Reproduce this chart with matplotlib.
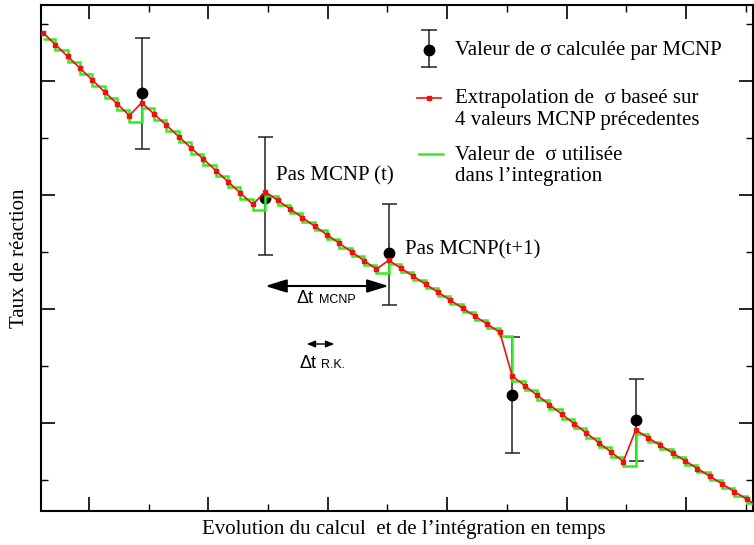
import numpy as np
import matplotlib
matplotlib.use('Agg')
import matplotlib.pyplot as plt
from matplotlib.patches import ArrowStyle

# ── Data (x = Runge-Kutta step index, y = reaction rate, arbitrary units) ────
rk_edges = np.arange(59)

# extrapolated sigma at each RK step (red), reset at each MCNP step
red_vals = [478.4, 466.5, 454.7, 442.8, 431.0, 419.1, 407.3, 395.4,
            408.3, 397.0, 385.7, 374.4, 363.1, 351.8, 340.5, 329.2, 317.9, 306.6,
            319.3, 310.7, 302.1, 293.5, 284.9, 276.3, 267.7, 259.1, 250.5, 241.9,
            250.7, 242.7, 234.7, 226.7, 218.7, 210.7, 202.7, 194.7, 186.7, 178.7,
            135.0, 125.5, 116.0, 106.5, 97.0, 87.5, 78.0, 68.5, 59.0, 49.5,
            81.0, 73.3, 65.6, 57.9, 50.2, 42.5, 34.8, 27.1, 19.4, 11.7, 4.0]

# sigma used during each RK step (green, piecewise constant)
green_vals = [472.5, 460.6, 448.8, 436.9, 425.1, 413.2, 401.4, 389.5,
              402.7, 391.4, 380.1, 368.8, 357.5, 346.2, 334.9, 323.6, 312.3, 301.0,
              315.0, 306.4, 297.8, 289.2, 280.6, 272.0, 263.4, 254.8, 246.2, 237.6,
              246.7, 238.7, 230.7, 222.7, 214.7, 206.7, 198.7, 190.7, 182.7, 174.7,
              130.25, 120.75, 111.25, 101.75, 92.25, 82.75, 73.25, 63.75, 54.25, 44.75,
              77.1, 69.4, 61.7, 54.0, 46.3, 38.6, 30.9, 23.2, 15.5, 7.8]

# MCNP computed values with error bars
mcnp_step = [8, 18, 28, 38, 48]
mcnp_vals = [418, 313, 258, 116, 91]
mcnp_err_lo = [55.5, 57, 52, 58, 41]
mcnp_err_hi = [55, 60.7, 49, 58, 41]

RED = '#f01010'
GREEN = '#2ef01e'
SERIF = 'Liberation Serif'
SANS = 'Liberation Sans'

fig = plt.figure(figsize=(7.54, 5.45), dpi=100)
ax = fig.add_axes([41 / 754, 34 / 545, 712 / 754, 506 / 545])

# ── Marks ─────────────────────────────────────────────────────────────────────
ax.errorbar(mcnp_step, mcnp_vals, yerr=[mcnp_err_lo, mcnp_err_hi], fmt='none',
            ecolor='#222222', elinewidth=1.1, capsize=5.4, capthick=1.1, zorder=1)
ax.plot(mcnp_step, mcnp_vals, 'o', color='black', markersize=7.5, zorder=2)
ax.stairs(green_vals, rk_edges, baseline=None, color=GREEN, lw=1.8, zorder=3)
ax.plot(rk_edges, red_vals, '-s', color=RED, lw=1.2, markersize=3, zorder=4)

ax.set_xlim(-0.154, 57.5)
ax.set_ylim(0, 506)

# ── Ticks / spines ────────────────────────────────────────────────────────────
ax.set_xticks(3.733 + 9.668 * np.arange(6))
ax.set_xticks(8.567 + 9.668 * np.arange(6), minor=True)
ax.set_yticks([88, 202, 316, 430])
ax.set_yticks([31, 145, 259, 373, 487], minor=True)
ax.tick_params(which='both', direction='in', top=True, right=True,
               labelbottom=False, labelleft=False, color='black')
ax.tick_params(which='major', length=10, width=1.2)
ax.tick_params(which='minor', length=5, width=1.0)
for sp in ax.spines.values():
    sp.set_linewidth(1.5)

ax.set_xlabel('Evolution du calcul  et de l\u2019int\u00e9gration en temps',
              family=SERIF, fontsize=15)
ax.xaxis.set_label_coords(0.51, -0.0375)
ax.xaxis.label.set_va('center')
ax.set_ylabel('Taux de r\u00e9action', family=SERIF, fontsize=15)
ax.yaxis.set_label_coords(-0.0295, 0.5)
ax.yaxis.label.set_va('center')

# ── Annotations ───────────────────────────────────────────────────────────────
ax.text(18.87, 330.3, 'Pas MCNP (t)', family=SERIF, fontsize=15, va='baseline')
ax.text(29.32, 257, 'Pas MCNP(t+1)', family=SERIF, fontsize=15, va='baseline')

ax.annotate('', xy=(mcnp_step[2], 225), xytext=(mcnp_step[1], 225),
            arrowprops=dict(arrowstyle=ArrowStyle('<|-|>', head_length=1.3, head_width=0.4),
                            mutation_scale=10, lw=1.5, color='black',
                            shrinkA=0, shrinkB=0))
ax.text(20.57, 208, '\u0394t', family=SANS, fontsize=13, va='baseline')
ax.text(22.36, 208, 'MCNP', family=SANS, fontsize=9, va='baseline')

ax.annotate('', xy=(23.6, 167), xytext=(21.36, 167),
            arrowprops=dict(arrowstyle=ArrowStyle('<|-|>', head_length=0.5, head_width=0.2),
                            mutation_scale=10, lw=1.0, color='black',
                            shrinkA=0, shrinkB=0))
ax.text(20.74, 143, '\u0394t', family=SANS, fontsize=13, va='baseline')
ax.text(22.52, 143, 'R.K.', family=SANS, fontsize=9, va='baseline')

# ── Legend (drawn by hand to keep handles on the first text line) ────────────
def fx(px):
    return (px - 41) / 712


def fy(py):
    return (511 - py) / 506


tr = ax.transAxes
ax.plot([fx(429.5)] * 2, [fy(30), fy(66.5)], color='#222222', lw=1.1, transform=tr)
ax.plot([fx(429.5)] * 2, [fy(30), fy(66.5)], '_', color='#222222', markersize=11,
        markeredgewidth=1.1, transform=tr)
ax.plot([fx(429.5)], [fy(50)], 'o', color='black', markersize=7.5, transform=tr)
ax.text(fx(455), fy(50), 'Valeur de \u03c3 calcul\u00e9e par MCNP', family=SERIF,
        fontsize=15, va='center', transform=tr)

ax.plot([fx(417), fx(441)], [fy(98)] * 2, color=RED, lw=1.2, transform=tr)
ax.plot([fx(429)], [fy(98)], 's', color=RED, markersize=3, transform=tr)
ax.text(fx(455), fy(98), 'Extrapolation de  \u03c3 base\u00e9 sur', family=SERIF,
        fontsize=15, va='center', transform=tr)
ax.text(fx(455), fy(120), '4 valeurs MCNP pr\u00e9cedentes', family=SERIF,
        fontsize=15, va='center', transform=tr)

ax.plot([fx(419), fx(443)], [fy(154)] * 2, color=GREEN, lw=1.8, transform=tr)
ax.text(fx(455), fy(155), 'Valeur de  \u03c3 utilis\u00e9e', family=SERIF,
        fontsize=15, va='center', transform=tr)
ax.text(fx(455), fy(177), 'dans l\u2019integration', family=SERIF,
        fontsize=15, va='center', transform=tr)

fig.savefig('out.png', dpi=100)
